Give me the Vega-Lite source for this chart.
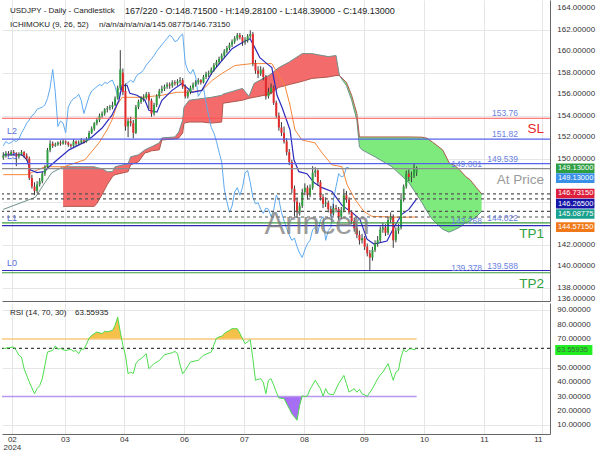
{
"$schema":"https://vega.github.io/schema/vega-lite/v6.json",
"padding":0,
"background":"white",
"spacing":0,
"config":{"view":{"stroke":null},"font":"Liberation Sans","text":{"font":"Liberation Sans"},"axis":{"labelFont":"Liberation Sans"}},
"datasets":{
"candles":[
{"i":0,"o":150.1,"h":150.6,"l":149.9,"c":150.3},{"i":1,"o":150.3,"h":150.7,"l":150.1,"c":150.5},{"i":2,"o":150.5,"h":150.7,"l":150.2,"c":150.4},{"i":3,"o":150.4,"h":150.8,"l":150.3,"c":150.6},{"i":4,"o":150.6,"h":150.8,"l":150.3,"c":150.5},{"i":5,"o":150.5,"h":150.6,"l":149.3,"c":150.2},{"i":6,"o":150.2,"h":150.6,"l":150.0,"c":150.4},{"i":7,"o":150.4,"h":150.8,"l":150.3,"c":150.6},{"i":8,"o":150.6,"h":150.7,"l":150.1,"c":150.3},{"i":9,"o":150.3,"h":150.5,"l":149.8,"c":150.0},
{"i":10,"o":150.0,"h":150.2,"l":148.0,"c":148.2},{"i":11,"o":148.2,"h":148.5,"l":147.2,"c":147.4},{"i":12,"o":147.4,"h":147.8,"l":146.6,"c":147.0},{"i":13,"o":147.0,"h":147.9,"l":146.8,"c":147.6},{"i":14,"o":147.6,"h":148.2,"l":147.4,"c":147.9},{"i":15,"o":147.9,"h":148.8,"l":147.7,"c":148.6},{"i":16,"o":148.6,"h":149.4,"l":148.4,"c":149.2},{"i":17,"o":149.2,"h":151.0,"l":149.1,"c":150.8},{"i":18,"o":150.8,"h":151.7,"l":150.6,"c":151.4},{"i":19,"o":151.4,"h":151.6,"l":151.0,"c":151.2},
{"i":20,"o":151.2,"h":151.5,"l":151.1,"c":151.3},{"i":21,"o":151.3,"h":151.6,"l":151.2,"c":151.5},{"i":22,"o":151.5,"h":151.7,"l":151.2,"c":151.4},{"i":23,"o":151.4,"h":151.8,"l":151.3,"c":151.6},{"i":24,"o":151.6,"h":151.7,"l":151.3,"c":151.5},{"i":25,"o":151.5,"h":151.6,"l":151.1,"c":151.3},{"i":26,"o":151.3,"h":151.4,"l":151.0,"c":151.2},{"i":27,"o":151.2,"h":151.8,"l":151.1,"c":151.6},{"i":28,"o":151.6,"h":151.7,"l":151.2,"c":151.4},{"i":29,"o":151.4,"h":151.7,"l":151.3,"c":151.5},
{"i":30,"o":151.5,"h":151.9,"l":151.4,"c":151.7},{"i":31,"o":151.7,"h":151.8,"l":151.4,"c":151.6},{"i":32,"o":151.6,"h":152.0,"l":151.5,"c":151.8},{"i":33,"o":151.8,"h":152.6,"l":151.7,"c":152.4},{"i":34,"o":152.4,"h":153.0,"l":152.3,"c":152.8},{"i":35,"o":152.8,"h":153.4,"l":152.6,"c":153.3},{"i":36,"o":153.3,"h":153.8,"l":153.1,"c":153.6},{"i":37,"o":153.6,"h":154.2,"l":153.4,"c":154.0},{"i":38,"o":154.0,"h":154.4,"l":153.8,"c":154.2},{"i":39,"o":154.2,"h":154.7,"l":154.0,"c":154.6},
{"i":40,"o":154.6,"h":154.9,"l":154.3,"c":154.7},{"i":41,"o":154.7,"h":155.0,"l":154.5,"c":154.8},{"i":42,"o":154.8,"h":155.3,"l":154.6,"c":155.0},{"i":43,"o":155.0,"h":155.8,"l":154.9,"c":155.6},{"i":44,"o":155.6,"h":156.8,"l":155.5,"c":156.6},{"i":45,"o":156.6,"h":160.1,"l":156.4,"c":158.3},{"i":46,"o":158.0,"h":158.4,"l":155.9,"c":156.2},{"i":47,"o":156.3,"h":157.0,"l":152.6,"c":153.0},{"i":48,"o":153.0,"h":153.8,"l":152.0,"c":153.5},{"i":49,"o":153.5,"h":153.9,"l":153.0,"c":153.3},
{"i":50,"o":153.3,"h":153.6,"l":151.9,"c":152.4},{"i":51,"o":152.4,"h":155.0,"l":152.3,"c":154.8},{"i":52,"o":154.8,"h":155.5,"l":154.6,"c":155.3},{"i":53,"o":155.3,"h":155.8,"l":155.1,"c":155.6},{"i":54,"o":155.6,"h":156.0,"l":155.3,"c":155.7},{"i":55,"o":155.7,"h":156.2,"l":155.5,"c":156.0},{"i":56,"o":156.0,"h":156.2,"l":154.6,"c":155.4},{"i":57,"o":155.4,"h":155.6,"l":153.9,"c":154.2},{"i":58,"o":154.2,"h":155.2,"l":154.0,"c":155.0},{"i":59,"o":155.0,"h":156.0,"l":154.8,"c":155.8},
{"i":60,"o":155.8,"h":156.5,"l":155.6,"c":156.3},{"i":61,"o":156.3,"h":156.8,"l":156.1,"c":156.5},{"i":62,"o":156.5,"h":156.9,"l":156.3,"c":156.7},{"i":63,"o":156.7,"h":157.1,"l":156.5,"c":156.9},{"i":64,"o":156.9,"h":157.1,"l":156.5,"c":156.8},{"i":65,"o":156.8,"h":157.3,"l":156.6,"c":157.1},{"i":66,"o":157.1,"h":157.3,"l":156.8,"c":157.0},{"i":67,"o":157.0,"h":157.4,"l":156.8,"c":157.2},{"i":68,"o":157.2,"h":157.6,"l":157.0,"c":157.3},{"i":69,"o":157.3,"h":157.5,"l":156.5,"c":156.7},
{"i":70,"o":156.7,"h":156.9,"l":155.6,"c":155.8},{"i":71,"o":155.8,"h":156.4,"l":155.6,"c":156.2},{"i":72,"o":156.2,"h":156.8,"l":156.0,"c":156.6},{"i":73,"o":156.6,"h":157.1,"l":156.4,"c":156.9},{"i":74,"o":156.9,"h":157.3,"l":156.7,"c":157.1},{"i":75,"o":157.1,"h":157.5,"l":156.9,"c":157.3},{"i":76,"o":157.3,"h":157.4,"l":156.9,"c":157.1},{"i":77,"o":157.1,"h":157.8,"l":157.0,"c":157.6},{"i":78,"o":157.6,"h":158.1,"l":157.4,"c":157.9},{"i":79,"o":157.9,"h":158.2,"l":157.6,"c":158.0},
{"i":80,"o":158.0,"h":158.5,"l":157.8,"c":158.3},{"i":81,"o":158.3,"h":158.9,"l":158.1,"c":158.7},{"i":82,"o":158.7,"h":159.2,"l":158.5,"c":159.0},{"i":83,"o":159.0,"h":159.5,"l":158.8,"c":159.3},{"i":84,"o":159.3,"h":159.8,"l":159.1,"c":159.6},{"i":85,"o":159.6,"h":160.2,"l":159.4,"c":160.0},{"i":86,"o":160.0,"h":160.5,"l":159.8,"c":160.3},{"i":87,"o":160.3,"h":160.8,"l":160.1,"c":160.6},{"i":88,"o":160.6,"h":161.1,"l":160.4,"c":160.9},{"i":89,"o":160.9,"h":161.4,"l":160.7,"c":161.2},
{"i":90,"o":161.2,"h":161.7,"l":161.0,"c":161.5},{"i":91,"o":161.5,"h":161.7,"l":161.1,"c":161.3},{"i":92,"o":161.3,"h":161.5,"l":160.5,"c":160.9},{"i":93,"o":160.9,"h":161.3,"l":160.6,"c":161.0},{"i":94,"o":161.0,"h":161.6,"l":160.8,"c":161.4},{"i":95,"o":161.4,"h":161.95,"l":161.2,"c":161.6},{"i":96,"o":161.6,"h":161.8,"l":158.6,"c":158.9},{"i":97,"o":158.9,"h":159.2,"l":157.9,"c":158.2},{"i":98,"o":158.2,"h":158.6,"l":157.5,"c":157.9},{"i":99,"o":157.9,"h":158.6,"l":157.7,"c":158.3},
{"i":100,"o":158.3,"h":158.5,"l":157.3,"c":157.6},{"i":101,"o":157.6,"h":157.8,"l":155.5,"c":155.8},{"i":102,"o":155.8,"h":156.6,"l":155.6,"c":156.2},{"i":103,"o":156.2,"h":157.0,"l":156.0,"c":156.6},{"i":104,"o":156.6,"h":156.8,"l":155.0,"c":155.2},{"i":105,"o":155.2,"h":155.4,"l":153.8,"c":154.0},{"i":106,"o":154.0,"h":154.3,"l":152.6,"c":152.9},{"i":107,"o":152.9,"h":153.4,"l":152.1,"c":152.4},{"i":108,"o":152.4,"h":153.0,"l":151.4,"c":151.6},{"i":109,"o":151.6,"h":151.9,"l":150.3,"c":150.6},
{"i":110,"o":150.6,"h":150.9,"l":149.4,"c":149.7},{"i":111,"o":149.7,"h":149.9,"l":146.8,"c":147.2},{"i":112,"o":147.2,"h":147.5,"l":144.6,"c":146.0},{"i":113,"o":146.0,"h":146.4,"l":144.5,"c":145.0},{"i":114,"o":145.0,"h":145.9,"l":144.7,"c":145.6},{"i":115,"o":145.6,"h":147.2,"l":145.4,"c":146.9},{"i":116,"o":146.9,"h":147.7,"l":146.6,"c":147.3},{"i":117,"o":147.3,"h":147.5,"l":146.2,"c":146.6},{"i":118,"o":146.6,"h":147.6,"l":146.4,"c":147.3},{"i":119,"o":147.3,"h":149.3,"l":147.1,"c":148.7},
{"i":120,"o":148.7,"h":149.2,"l":148.3,"c":148.9},{"i":121,"o":148.9,"h":149.0,"l":147.5,"c":147.8},{"i":122,"o":147.8,"h":148.0,"l":146.1,"c":146.4},{"i":123,"o":146.4,"h":146.7,"l":145.4,"c":145.8},{"i":124,"o":145.8,"h":146.4,"l":145.5,"c":145.9},{"i":125,"o":145.9,"h":146.1,"l":145.0,"c":145.3},{"i":126,"o":145.3,"h":145.6,"l":144.6,"c":144.9},{"i":127,"o":144.9,"h":145.8,"l":144.7,"c":145.4},{"i":128,"o":145.4,"h":145.7,"l":145.0,"c":145.3},{"i":129,"o":145.3,"h":145.5,"l":144.3,"c":144.6},
{"i":130,"o":144.6,"h":145.5,"l":144.4,"c":145.2},{"i":131,"o":145.2,"h":147.2,"l":145.0,"c":146.6},{"i":132,"o":146.6,"h":147.0,"l":145.9,"c":146.2},{"i":133,"o":146.2,"h":146.4,"l":144.8,"c":145.0},{"i":134,"o":145.0,"h":145.2,"l":143.9,"c":144.2},{"i":135,"o":144.2,"h":144.5,"l":143.2,"c":143.5},{"i":136,"o":143.5,"h":143.9,"l":142.6,"c":142.9},{"i":137,"o":142.9,"h":143.3,"l":142.0,"c":142.4},{"i":138,"o":142.4,"h":143.0,"l":142.1,"c":142.6},{"i":139,"o":142.6,"h":142.8,"l":141.5,"c":141.8},
{"i":140,"o":141.8,"h":142.1,"l":140.9,"c":141.2},{"i":141,"o":141.2,"h":141.5,"l":139.6,"c":140.8},{"i":142,"o":140.8,"h":141.8,"l":140.5,"c":141.5},{"i":143,"o":141.5,"h":142.4,"l":141.3,"c":142.1},{"i":144,"o":142.1,"h":142.8,"l":141.8,"c":142.4},{"i":145,"o":142.4,"h":143.7,"l":142.2,"c":143.4},{"i":146,"o":143.4,"h":144.0,"l":143.1,"c":143.6},{"i":147,"o":143.6,"h":143.9,"l":142.8,"c":143.1},{"i":148,"o":143.1,"h":144.6,"l":142.9,"c":144.3},{"i":149,"o":144.3,"h":145.0,"l":144.0,"c":144.6},
{"i":150,"o":144.6,"h":144.8,"l":141.7,"c":142.4},{"i":151,"o":142.4,"h":143.6,"l":142.2,"c":143.3},{"i":152,"o":143.3,"h":143.9,"l":143.0,"c":143.6},{"i":153,"o":143.6,"h":146.8,"l":143.4,"c":146.2},{"i":154,"o":146.2,"h":147.6,"l":146.0,"c":147.4},{"i":155,"o":147.4,"h":148.9,"l":147.2,"c":148.6},{"i":156,"o":148.6,"h":149.0,"l":147.9,"c":148.3},{"i":157,"o":148.3,"h":148.8,"l":147.8,"c":148.4},{"i":158,"o":148.4,"h":149.6,"l":148.2,"c":149.2},{"i":159,"o":148.715,"h":149.281,"l":148.39,"c":149.13}
],
"chikou":[
{"i":0,"v":151.2},{"i":1,"v":151.6},{"i":2,"v":151.4},{"i":3,"v":151.5},{"i":4,"v":151.7},{"i":5,"v":151.6},{"i":6,"v":151.8},{"i":7,"v":152.4},{"i":8,"v":152.8},{"i":9,"v":153.3},{"i":10,"v":153.6},{"i":11,"v":154.0},{"i":12,"v":154.2},{"i":13,"v":154.6},{"i":14,"v":154.7},{"i":15,"v":154.8},{"i":16,"v":155.0},{"i":17,"v":155.6},{"i":18,"v":156.6},{"i":19,"v":158.3},{"i":20,"v":156.2},{"i":21,"v":153.0},{"i":22,"v":153.5},{"i":23,"v":153.3},{"i":24,"v":152.4},{"i":25,"v":154.8},{"i":26,"v":155.3},{"i":27,"v":155.6},{"i":28,"v":155.7},{"i":29,"v":156.0},{"i":30,"v":155.4},{"i":31,"v":154.2},{"i":32,"v":155.0},{"i":33,"v":155.8},{"i":34,"v":156.3},{"i":35,"v":156.5},{"i":36,"v":156.7},{"i":37,"v":156.9},{"i":38,"v":156.8},{"i":39,"v":157.1},{"i":40,"v":157.0},{"i":41,"v":157.2},{"i":42,"v":157.3},{"i":43,"v":156.7},{"i":44,"v":155.8},{"i":45,"v":156.2},{"i":46,"v":156.6},{"i":47,"v":156.9},{"i":48,"v":157.1},{"i":49,"v":157.3},{"i":50,"v":157.1},{"i":51,"v":157.6},{"i":52,"v":157.9},{"i":53,"v":158.0},{"i":54,"v":158.3},{"i":55,"v":158.7},{"i":56,"v":159.0},{"i":57,"v":159.3},{"i":58,"v":159.6},{"i":59,"v":160.0},{"i":60,"v":160.3},{"i":61,"v":160.6},{"i":62,"v":160.9},{"i":63,"v":161.2},{"i":64,"v":161.5},{"i":65,"v":161.3},{"i":66,"v":160.9},{"i":67,"v":161.0},{"i":68,"v":161.4},{"i":69,"v":161.6},{"i":70,"v":158.9},{"i":71,"v":158.2},{"i":72,"v":157.9},{"i":73,"v":158.3},{"i":74,"v":157.6},{"i":75,"v":155.8},{"i":76,"v":156.2},{"i":77,"v":156.6},{"i":78,"v":155.2},{"i":79,"v":154.0},{"i":80,"v":152.9},{"i":81,"v":152.4},{"i":82,"v":151.6},{"i":83,"v":150.6},{"i":84,"v":149.7},{"i":85,"v":147.2},{"i":86,"v":146.0},{"i":87,"v":145.0},{"i":88,"v":145.6},{"i":89,"v":146.9},{"i":90,"v":147.3},{"i":91,"v":146.6},{"i":92,"v":147.3},{"i":93,"v":148.7},{"i":94,"v":148.9},{"i":95,"v":147.8},{"i":96,"v":146.4},{"i":97,"v":145.8},{"i":98,"v":145.9},{"i":99,"v":145.3},{"i":100,"v":144.9},{"i":101,"v":145.4},{"i":102,"v":145.3},{"i":103,"v":144.6},{"i":104,"v":145.2},{"i":105,"v":146.6},{"i":106,"v":146.2},{"i":107,"v":145.0},{"i":108,"v":144.2},{"i":109,"v":143.5},{"i":110,"v":142.9},{"i":111,"v":142.4},{"i":112,"v":142.6},{"i":113,"v":141.8},{"i":114,"v":141.2},{"i":115,"v":140.8},{"i":116,"v":141.5},{"i":117,"v":142.1},{"i":118,"v":142.4},{"i":119,"v":143.4},{"i":120,"v":143.6},{"i":121,"v":143.1},{"i":122,"v":144.3},{"i":123,"v":144.6},{"i":124,"v":142.4},{"i":125,"v":143.3},{"i":126,"v":143.6},{"i":127,"v":146.2},{"i":128,"v":147.4},{"i":129,"v":148.6},{"i":130,"v":148.3},{"i":131,"v":148.4},{"i":132,"v":149.2},{"i":133,"v":149.13}
],
"tenkan":[{"i":0,"v":150.36},{"i":7.2,"v":150.36},{"i":9.1,"v":149.9},{"i":10.3,"v":148.97},{"i":13,"v":148.7},{"i":16,"v":148.8},{"i":17.6,"v":149.25},{"i":25.3,"v":150.82},{"i":31.4,"v":151.56},{"i":34.1,"v":152.02},{"i":38,"v":152.85},{"i":41.8,"v":154.05},{"i":44.5,"v":155.44},{"i":45.7,"v":156.82},{"i":47.6,"v":156.82},{"i":48.7,"v":156.08},{"i":51.4,"v":155.9},{"i":54.5,"v":155.44},{"i":56,"v":154.51},{"i":59.1,"v":154.33},{"i":61,"v":155.44},{"i":64.9,"v":156.36},{"i":68.7,"v":157.0},{"i":70.7,"v":156.6},{"i":72.6,"v":156.18},{"i":76.4,"v":156.36},{"i":80.3,"v":158.02},{"i":84.1,"v":159.13},{"i":88,"v":160.24},{"i":91.8,"v":160.79},{"i":94.9,"v":161.16},{"i":96.4,"v":160.5},{"i":98.7,"v":159.4},{"i":101.4,"v":158.85},{"i":103.3,"v":158.48},{"i":105.3,"v":155.9},{"i":107.2,"v":154.79},{"i":110.3,"v":152.67},{"i":111.8,"v":149.9},{"i":113.7,"v":148.79},{"i":116.8,"v":148.6},{"i":119.5,"v":147.77},{"i":122.6,"v":147.3},{"i":126.4,"v":146.94},{"i":130.3,"v":145.65},{"i":134.1,"v":145.0},{"i":137.2,"v":144.36},{"i":139.9,"v":142.51},{"i":142.6,"v":142.05},{"i":147.6,"v":142.33},{"i":150.3,"v":143.62},{"i":153.3,"v":144.82},{"i":156,"v":145.28},{"i":159,"v":146.265}],
"kijun":[{"i":0,"v":148.51},{"i":9.1,"v":148.51},{"i":16,"v":149.25},{"i":23.3,"v":149.25},{"i":31.4,"v":149.9},{"i":36.8,"v":151.47},{"i":39.9,"v":152.67},{"i":41.8,"v":153.59},{"i":43.7,"v":154.97},{"i":45.7,"v":155.71},{"i":53.3,"v":155.71},{"i":61,"v":155.9},{"i":66.8,"v":156.18},{"i":70.7,"v":156.18},{"i":76.4,"v":156.36},{"i":80.3,"v":157.28},{"i":84.1,"v":157.93},{"i":89.1,"v":158.67},{"i":95.7,"v":158.85},{"i":103.3,"v":158.85},{"i":106,"v":157.74},{"i":108.3,"v":156.82},{"i":110.3,"v":154.97},{"i":112.2,"v":152.67},{"i":114.9,"v":151.74},{"i":119.9,"v":151.47},{"i":122.6,"v":150.54},{"i":126.4,"v":149.43},{"i":130.3,"v":149.25},{"i":132.2,"v":147.59},{"i":135.3,"v":146.2},{"i":138.7,"v":145.1},{"i":141.8,"v":144.63},{"i":153.3,"v":144.54},{"i":159,"v":144.5715}],
"spanApre":[{"i":0,"v":145.28},{"i":7.2,"v":145.93},{"i":12.3,"v":146.4},{"i":16,"v":147.77},{"i":18.7,"v":148.7},{"i":23,"v":149.25}],
"cloud":[
{"i":23,"a":149.25,"b":145.56,"s":"r"},{"i":35,"a":149.25,"b":145.56,"s":"r"},{"i":36,"a":149.16,"b":145.83,"s":"r"},{"i":38,"a":149.07,"b":146.66,"s":"r"},{"i":40,"a":148.79,"b":147.59,"s":"r"},{"i":42,"a":148.79,"b":148.33,"s":"r"},{"i":43,"a":149.25,"b":148.51,"s":"r"},{"i":48,"a":149.53,"b":148.79,"s":"r"},{"i":49,"a":150.17,"b":149.43,"s":"r"},{"i":52,"a":150.36,"b":149.71,"s":"r"},{"i":54.5,"a":150.82,"b":150.54,"s":"r"},{"i":56,"a":151.0,"b":150.63,"s":"r"},{"i":57,"a":151.1,"b":150.73,"s":"r"},{"i":60,"a":151.47,"b":150.82,"s":"r"},{"i":61,"a":151.93,"b":151.74,"s":"r"},{"i":66,"a":152.02,"b":151.84,"s":"r"},{"i":67.5,"a":152.48,"b":151.93,"s":"r"},{"i":69,"a":153.59,"b":152.39,"s":"r"},{"i":69.5,"a":154.79,"b":153.31,"s":"r"},{"i":71.5,"a":155.44,"b":153.41,"s":"r"},{"i":76.5,"a":155.6,"b":153.41,"s":"r"},{"i":80,"a":155.71,"b":153.31,"s":"r"},{"i":84,"a":155.9,"b":153.41,"s":"r"},{"i":84.5,"a":156.0,"b":155.16,"s":"r"},{"i":92,"a":156.54,"b":155.44,"s":"r"},{"i":94.5,"a":155.8,"b":155.62,"s":"r"},{"i":96.5,"a":157.01,"b":155.71,"s":"r"},{"i":102.5,"a":157.8,"b":156.0,"s":"r"},{"i":106,"a":158.48,"b":156.64,"s":"r"},{"i":110,"a":159.0,"b":156.9,"s":"r"},{"i":115,"a":159.78,"b":157.2,"s":"r"},{"i":118.7,"a":159.78,"b":157.47,"s":"r"},{"i":125,"a":159.5,"b":157.6,"s":"r"},{"i":128,"a":159.6,"b":157.74,"s":"r"},{"i":129.3,"a":157.74,"b":157.74,"s":"r"},
{"i":129.3,"a":157.74,"b":157.74,"s":"g"},{"i":132,"a":156.8,"b":157.1,"s":"g"},{"i":134,"a":155.44,"b":155.9,"s":"g"},{"i":136,"a":153.59,"b":154.2,"s":"g"},{"i":137,"a":151.1,"b":152.02,"s":"g"},{"i":138,"a":150.82,"b":152.02,"s":"g"},{"i":143,"a":150.17,"b":152.02,"s":"g"},{"i":149.5,"a":149.25,"b":152.02,"s":"g"},{"i":156,"a":147.77,"b":152.02,"s":"g"},{"i":161,"a":145.93,"b":152.0,"s":"g"},{"i":163,"a":145.1,"b":151.9,"s":"g"},{"i":165,"a":144.36,"b":151.56,"s":"g"},{"i":169,"a":143.43,"b":150.82,"s":"g"},{"i":171.5,"a":143.16,"b":149.62,"s":"g"},{"i":174,"a":143.43,"b":149.3,"s":"g"},{"i":175.5,"a":143.6,"b":148.97,"s":"g"},{"i":178,"a":144.08,"b":148.3,"s":"g"},{"i":179.5,"a":144.2,"b":148.05,"s":"g"},{"i":182,"a":144.6,"b":147.3,"s":"g"},{"i":184,"a":145.09,"b":146.73,"s":"g"}
],
"levels":[{"v":153.76,"k":"sl"},{"v":151.82,"k":"la"},{"v":149.539,"k":"la"},{"v":149.081,"k":"at"},{"v":146.7315,"k":"dot"},{"v":146.265,"k":"dot"},{"v":145.08775,"k":"dot"},{"v":144.5715,"k":"dot"},{"v":144.022,"k":"tp"},{"v":143.768,"k":"lb"},{"v":139.588,"k":"lb"},{"v":139.378,"k":"tp"}],
"levelText":[{"v":153.76,"t":"153.76"},{"v":151.82,"t":"151.82"},{"v":149.539,"t":"149.539"},{"v":144.022,"t":"144.022"},{"v":139.588,"t":"139.588"}],
"levelText2":[{"v":149.081,"t":"149.081"},{"v":143.768,"t":"143.768"},{"v":139.378,"t":"139.378"}],
"lLabels":[{"v":151.82,"t":"L2"},{"v":149.539,"t":"L3"},{"v":143.768,"t":"L1"},{"v":139.588,"t":"L0"}],
"bigLabels":[{"v":153.76,"t":"SL","k":"sl"},{"v":149.081,"t":"At Price","k":"at"},{"v":144.022,"t":"TP1","k":"tp"},{"v":139.378,"t":"TP2","k":"tp"}],
"priceTicks":[{"v":138},{"v":140},{"v":142},{"v":150},{"v":152},{"v":154},{"v":156},{"v":158},{"v":160},{"v":162},{"v":164}],
"rsiTicks":[{"v":10},{"v":20},{"v":30},{"v":40},{"v":50},{"v":70},{"v":80},{"v":90}],
"rsi":[{"i":0,"v":63.3},{"i":2,"v":64},{"i":4,"v":64.5},{"i":5,"v":62},{"i":6,"v":58.7},{"i":7,"v":57.5},{"i":8,"v":49.4},{"i":10,"v":40.1},{"i":12,"v":32},{"i":13,"v":35.5},{"i":14,"v":37.6},{"i":15,"v":42.4},{"i":16,"v":51.7},{"i":17,"v":61},{"i":19,"v":62.1},{"i":20,"v":65.2},{"i":21,"v":62.9},{"i":22,"v":63.5},{"i":24,"v":62},{"i":25,"v":62.5},{"i":26,"v":62.8},{"i":27,"v":61.5},{"i":28,"v":62},{"i":29,"v":59.8},{"i":30,"v":63},{"i":31,"v":63},{"i":32,"v":66.5},{"i":33,"v":70.6},{"i":34,"v":72.6},{"i":36,"v":74.9},{"i":38,"v":73.8},{"i":39,"v":75.4},{"i":40,"v":75},{"i":42,"v":76},{"i":43,"v":79.5},{"i":44,"v":85.3},{"i":45,"v":74.9},{"i":46,"v":65.7},{"i":47,"v":58.7},{"i":48,"v":45.9},{"i":49,"v":47},{"i":50,"v":46},{"i":51,"v":52.9},{"i":52,"v":55.2},{"i":53,"v":56.4},{"i":55,"v":59.8},{"i":56,"v":49.4},{"i":58,"v":52.9},{"i":60,"v":55},{"i":62,"v":59.1},{"i":65,"v":60.5},{"i":66,"v":61.4},{"i":67,"v":60},{"i":68,"v":52},{"i":69,"v":45.9},{"i":70,"v":48.2},{"i":72,"v":54.1},{"i":75,"v":55.2},{"i":77,"v":58.7},{"i":80,"v":61},{"i":81,"v":66},{"i":82,"v":70.6},{"i":83,"v":71.5},{"i":84,"v":72},{"i":85,"v":73.8},{"i":86,"v":75},{"i":88,"v":77.2},{"i":90,"v":77.2},{"i":91,"v":74},{"i":92,"v":70.3},{"i":93,"v":66.8},{"i":95,"v":69.5},{"i":96,"v":56.4},{"i":97,"v":41.3},{"i":98,"v":42},{"i":99,"v":42.4},{"i":100,"v":40},{"i":101,"v":32},{"i":102,"v":41.3},{"i":103,"v":42.4},{"i":104,"v":38},{"i":105,"v":33.1},{"i":106,"v":29},{"i":108,"v":28.6},{"i":110,"v":21.6},{"i":111,"v":18},{"i":112,"v":15.8},{"i":113,"v":13.5},{"i":114,"v":23.9},{"i":115,"v":30.5},{"i":116,"v":30},{"i":117,"v":30.5},{"i":118,"v":35},{"i":120,"v":41.3},{"i":122,"v":35.5},{"i":123,"v":30.2},{"i":124,"v":35.5},{"i":125,"v":32},{"i":126,"v":31.5},{"i":127,"v":31.3},{"i":129,"v":39},{"i":131,"v":44.7},{"i":132,"v":39},{"i":133,"v":33.1},{"i":135,"v":35.5},{"i":136,"v":33},{"i":137,"v":35},{"i":138,"v":32},{"i":139,"v":31},{"i":140,"v":30.2},{"i":142,"v":35.5},{"i":144,"v":42.4},{"i":145,"v":45},{"i":146,"v":47},{"i":148,"v":52.9},{"i":149,"v":47},{"i":150,"v":41.3},{"i":151,"v":47},{"i":152,"v":48.2},{"i":153,"v":57.5},{"i":154,"v":62.9},{"i":155,"v":61},{"i":156,"v":62.9},{"i":157,"v":63.3},{"i":158,"v":62.5},{"i":159,"v":63.56}],
"ob":[{"i":32.6,"v":70,"g":"a"},{"i":33,"v":70.6,"g":"a"},{"i":34,"v":72.6,"g":"a"},{"i":36,"v":74.9,"g":"a"},{"i":38,"v":73.8,"g":"a"},{"i":39,"v":75.4,"g":"a"},{"i":40,"v":75,"g":"a"},{"i":42,"v":76,"g":"a"},{"i":43,"v":79.5,"g":"a"},{"i":44,"v":85.3,"g":"a"},{"i":45,"v":74.9,"g":"a"},{"i":45.53,"v":70,"g":"a"},{"i":81.9,"v":70,"g":"b"},{"i":82,"v":70.6,"g":"b"},{"i":83,"v":71.5,"g":"b"},{"i":84,"v":72,"g":"b"},{"i":85,"v":73.8,"g":"b"},{"i":86,"v":75,"g":"b"},{"i":88,"v":77.2,"g":"b"},{"i":90,"v":77.2,"g":"b"},{"i":91,"v":74,"g":"b"},{"i":92,"v":70.3,"g":"b"},{"i":92.1,"v":70,"g":"b"}],
"os":[{"i":105.76,"v":30},{"i":106,"v":29},{"i":108,"v":28.6},{"i":110,"v":21.6},{"i":111,"v":18},{"i":112,"v":15.8},{"i":113,"v":13.5},{"i":114,"v":23.9},{"i":114.9,"v":30}],
"rsiLevels":[{"v":70,"k":"ob"},{"v":30,"k":"os"}]
},
"vconcat":[
{"width":548,"height":301,"resolve":{"scale":{"color":"independent","strokeDash":"independent"}},"layer":[
{"data":{"name":"cloud"},"mark":{"type":"area","opacity":1},"encoding":{
"x":{"field":"i","type":"quantitative","title":null,"scale":{"domain":[-0.5,210.3],"nice":false,"zero":false},"axis":{"title":null,"labels":false,"ticks":false,"domain":true,"domainColor":"#666666","grid":true,"gridColor":"#e6e6e6","values":[3.3,23.7,46.4,69.5,92.6,115.7,138.7,161.8,184.9,207.2],"minExtent":0,"maxExtent":0}},
"y":{"field":"a","type":"quantitative","title":null,"stack":null,"scale":{"domain":[136.75,164.77],"nice":false,"zero":false},"axis":{"title":null,"orient":"right","values":[138,140,142,144,146,148,150,152,154,156,158,160,162,164],"labels":false,"ticks":false,"domain":true,"domainColor":"#666666","grid":true,"gridColor":"#e6e6e6"}},
"y2":{"field":"b"},
"color":{"field":"s","type":"nominal","scale":{"domain":["r","g"],"range":["#f46b6b","#7eea7e"]},"legend":null}}},
{"data":{"name":"spanApre"},"mark":{"type":"line","color":"#6f918c","strokeWidth":1},"encoding":{"x":{"field":"i","type":"quantitative","title":null,"scale":{"domain":[-0.5,210.3],"nice":false,"zero":false}},"y":{"field":"v","type":"quantitative","title":null,"scale":{"domain":[136.75,164.77],"nice":false,"zero":false}}}},
{"data":{"name":"cloud"},"mark":{"type":"line","color":"#6f918c","strokeWidth":1},"encoding":{"x":{"field":"i","type":"quantitative","title":null,"scale":{"domain":[-0.5,210.3],"nice":false,"zero":false}},"y":{"field":"a","type":"quantitative","title":null,"scale":{"domain":[136.75,164.77],"nice":false,"zero":false}}}},
{"data":{"name":"cloud"},"mark":{"type":"line","color":"#b0574c","strokeWidth":1},"encoding":{"x":{"field":"i","type":"quantitative","title":null,"scale":{"domain":[-0.5,210.3],"nice":false,"zero":false}},"y":{"field":"b","type":"quantitative","title":null,"scale":{"domain":[136.75,164.77],"nice":false,"zero":false}}}},
{"data":{"name":"chikou"},"mark":{"type":"line","color":"#5eaaf0","strokeWidth":1},"encoding":{"x":{"field":"i","type":"quantitative","title":null,"scale":{"domain":[-0.5,210.3],"nice":false,"zero":false}},"y":{"field":"v","type":"quantitative","title":null,"scale":{"domain":[136.75,164.77],"nice":false,"zero":false}}}},
{"data":{"name":"kijun"},"mark":{"type":"line","color":"#f5873a","strokeWidth":1},"encoding":{"x":{"field":"i","type":"quantitative","title":null,"scale":{"domain":[-0.5,210.3],"nice":false,"zero":false}},"y":{"field":"v","type":"quantitative","title":null,"scale":{"domain":[136.75,164.77],"nice":false,"zero":false}}}},
{"data":{"name":"tenkan"},"mark":{"type":"line","color":"#2b2bbf","strokeWidth":1.2},"encoding":{"x":{"field":"i","type":"quantitative","title":null,"scale":{"domain":[-0.5,210.3],"nice":false,"zero":false}},"y":{"field":"v","type":"quantitative","title":null,"scale":{"domain":[136.75,164.77],"nice":false,"zero":false}}}},
{"data":{"name":"candles"},"mark":{"type":"rule","color":"#3a3a3a","strokeWidth":1},"encoding":{"x":{"field":"i","type":"quantitative","title":null,"scale":{"domain":[-0.5,210.3],"nice":false,"zero":false}},"y":{"field":"l","type":"quantitative","title":null,"scale":{"domain":[136.75,164.77],"nice":false,"zero":false}},"y2":{"field":"h"}}},
{"data":{"name":"candles"},"mark":{"type":"rule","strokeWidth":2},"encoding":{"x":{"field":"i","type":"quantitative","title":null,"scale":{"domain":[-0.5,210.3],"nice":false,"zero":false}},"y":{"field":"o","type":"quantitative","title":null,"scale":{"domain":[136.75,164.77],"nice":false,"zero":false}},"y2":{"field":"c"},"color":{"condition":{"test":"datum.c >= datum.o","value":"#2f9e3f"},"value":"#e42a2a"}}},
{"data":{"name":"levels"},"mark":{"type":"rule","strokeWidth":1.2},"encoding":{"y":{"field":"v","type":"quantitative","title":null,"scale":{"domain":[136.75,164.77],"nice":false,"zero":false}},"color":{"field":"k","type":"nominal","scale":{"domain":["sl","la","lb","at","tp","dot"],"range":["#ff5555","#5563ea","#2b2bb8","#8a8a8a","#3a9a3a","#555555"]},"legend":null},"strokeDash":{"field":"k","type":"nominal","scale":{"domain":["sl","la","lb","at","tp","dot"],"range":[[1,0],[1,0],[1,0],[1,0],[1,0],[3,3]]},"legend":null}}},
{"data":{"name":"levelText"},"mark":{"type":"text","align":"right","baseline":"alphabetic","dy":-2,"fontSize":8.5,"color":"#6b7fe0"},"encoding":{"x":{"datum":197.96,"type":"quantitative","title":null,"scale":{"domain":[-0.5,210.3],"nice":false,"zero":false}},"y":{"field":"v","type":"quantitative","title":null,"scale":{"domain":[136.75,164.77],"nice":false,"zero":false}},"text":{"field":"t"}}},
{"data":{"name":"levelText2"},"mark":{"type":"text","align":"right","baseline":"alphabetic","dy":-2,"fontSize":8.5,"color":"#6b7fe0"},"encoding":{"x":{"datum":184.1,"type":"quantitative","title":null,"scale":{"domain":[-0.5,210.3],"nice":false,"zero":false}},"y":{"field":"v","type":"quantitative","title":null,"scale":{"domain":[136.75,164.77],"nice":false,"zero":false}},"text":{"field":"t"}}},
{"data":{"name":"lLabels"},"mark":{"type":"text","align":"left","baseline":"bottom","dy":-3,"fontSize":9,"color":"#5a6ee0"},"encoding":{"x":{"datum":1.42,"type":"quantitative","title":null,"scale":{"domain":[-0.5,210.3],"nice":false,"zero":false}},"y":{"field":"v","type":"quantitative","title":null,"scale":{"domain":[136.75,164.77],"nice":false,"zero":false}},"text":{"field":"t"}}},
{"data":{"name":"bigLabels"},"mark":{"type":"text","align":"right","baseline":"middle","dy":11,"fontSize":13.5},"encoding":{"x":{"datum":207.96,"type":"quantitative","title":null,"scale":{"domain":[-0.5,210.3],"nice":false,"zero":false}},"y":{"field":"v","type":"quantitative","title":null,"scale":{"domain":[136.75,164.77],"nice":false,"zero":false}},"text":{"field":"t"},"color":{"field":"k","type":"nominal","scale":{"domain":["sl","at","tp"],"range":["#e8262b","#9a9a9a","#2e9e3e"]},"legend":null}}},
{"data":{"name":"priceTicks"},"mark":{"type":"text","align":"left","baseline":"middle","fontSize":8,"color":"#333333","clip":false},"encoding":{"x":{"datum":213.1,"type":"quantitative","title":null,"scale":{"domain":[-0.5,210.3],"nice":false,"zero":false}},"y":{"field":"v","type":"quantitative","title":null,"scale":{"domain":[136.75,164.77],"nice":false,"zero":false}},"text":{"field":"v","type":"quantitative","format":".5f"}}},
{"data":{"values":[{}]},"mark":{"type":"text","align":"left","baseline":"middle","fontSize":8,"color":"#333333","clip":false},"encoding":{"x":{"datum":213.1,"type":"quantitative","title":null,"scale":{"domain":[-0.5,210.3],"nice":false,"zero":false}},"y":{"datum":136.95,"type":"quantitative","title":null,"scale":{"domain":[136.75,164.77],"nice":false,"zero":false}},"text":{"value":"136.00000"}}},
{"data":{"values":[{}]},"mark":{"type":"text","align":"left","baseline":"middle","fontSize":8,"color":"#222222"},"encoding":{"x":{"datum":2.58,"type":"quantitative","title":null,"scale":{"domain":[-0.5,210.3],"nice":false,"zero":false}},"y":{"datum":163.75,"type":"quantitative","title":null,"scale":{"domain":[136.75,164.77],"nice":false,"zero":false}},"text":{"value":"USDJPY - Daily - Candlestick"}}},
{"data":{"values":[{}]},"mark":{"type":"text","align":"left","baseline":"middle","fontSize":9,"color":"#222222"},"encoding":{"x":{"datum":46.8,"type":"quantitative","title":null,"scale":{"domain":[-0.5,210.3],"nice":false,"zero":false}},"y":{"datum":163.75,"type":"quantitative","title":null,"scale":{"domain":[136.75,164.77],"nice":false,"zero":false}},"text":{"value":"167/220 - O:148.71500 - H:149.28100 - L:148.39000 - C:149.13000"}}},
{"data":{"values":[{}]},"mark":{"type":"text","align":"left","baseline":"middle","fontSize":8,"color":"#222222"},"encoding":{"x":{"datum":2.58,"type":"quantitative","title":null,"scale":{"domain":[-0.5,210.3],"nice":false,"zero":false}},"y":{"datum":162.44,"type":"quantitative","title":null,"scale":{"domain":[136.75,164.77],"nice":false,"zero":false}},"text":{"value":"ICHIMOKU (9, 26, 52)"}}},
{"data":{"values":[{}]},"mark":{"type":"text","align":"left","baseline":"middle","fontSize":8,"color":"#222222"},"encoding":{"x":{"datum":36.8,"type":"quantitative","title":null,"scale":{"domain":[-0.5,210.3],"nice":false,"zero":false}},"y":{"datum":162.44,"type":"quantitative","title":null,"scale":{"domain":[136.75,164.77],"nice":false,"zero":false}},"text":{"value":"n/a/n/a/n/a/n/a/145.08775/146.73150"}}},
{"data":{"values":[{}]},"mark":{"type":"text","align":"center","baseline":"middle","fontSize":31,"color":"#7a7a7a","opacity":0.75},"encoding":{"x":{"datum":120.7,"type":"quantitative","title":null,"scale":{"domain":[-0.5,210.3],"nice":false,"zero":false}},"y":{"datum":143.82,"type":"quantitative","title":null,"scale":{"domain":[136.75,164.77],"nice":false,"zero":false}},"text":{"value":"Arincen"}}},
{"data":{"values":[{}]},"layer":[
{"mark":{"type":"rect","color":"#2e9e44","clip":false},"encoding":{"x":{"datum":212.6,"type":"quantitative","title":null,"scale":{"domain":[-0.5,210.3],"nice":false,"zero":false}},"x2":{"datum":227.4},"y":{"datum":149.56,"type":"quantitative","title":null,"scale":{"domain":[136.75,164.77],"nice":false,"zero":false}},"y2":{"datum":148.66}}},
{"mark":{"type":"text","color":"#ffffff","align":"left","baseline":"middle","fontSize":7.5,"clip":false},"encoding":{"x":{"datum":213.35,"type":"quantitative","title":null,"scale":{"domain":[-0.5,210.3],"nice":false,"zero":false}},"y":{"datum":149.11,"type":"quantitative","title":null,"scale":{"domain":[136.75,164.77],"nice":false,"zero":false}},"text":{"value":"149.13000"}}},
{"mark":{"type":"rect","color":"#3a90e6","clip":false},"encoding":{"x":{"datum":212.6,"type":"quantitative","title":null,"scale":{"domain":[-0.5,210.3],"nice":false,"zero":false}},"x2":{"datum":227.4},"y":{"datum":148.64,"type":"quantitative","title":null,"scale":{"domain":[136.75,164.77],"nice":false,"zero":false}},"y2":{"datum":147.74}}},
{"mark":{"type":"text","color":"#ffffff","align":"left","baseline":"middle","fontSize":7.5,"clip":false},"encoding":{"x":{"datum":213.35,"type":"quantitative","title":null,"scale":{"domain":[-0.5,210.3],"nice":false,"zero":false}},"y":{"datum":148.19,"type":"quantitative","title":null,"scale":{"domain":[136.75,164.77],"nice":false,"zero":false}},"text":{"value":"149.13000"}}},
{"mark":{"type":"rect","color":"#dc1e3c","clip":false},"encoding":{"x":{"datum":212.6,"type":"quantitative","title":null,"scale":{"domain":[-0.5,210.3],"nice":false,"zero":false}},"x2":{"datum":227.4},"y":{"datum":147.21,"type":"quantitative","title":null,"scale":{"domain":[136.75,164.77],"nice":false,"zero":false}},"y2":{"datum":146.31}}},
{"mark":{"type":"text","color":"#ffffff","align":"left","baseline":"middle","fontSize":7.5,"clip":false},"encoding":{"x":{"datum":213.35,"type":"quantitative","title":null,"scale":{"domain":[-0.5,210.3],"nice":false,"zero":false}},"y":{"datum":146.76,"type":"quantitative","title":null,"scale":{"domain":[136.75,164.77],"nice":false,"zero":false}},"text":{"value":"146.73150"}}},
{"mark":{"type":"rect","color":"#1515a8","clip":false},"encoding":{"x":{"datum":212.6,"type":"quantitative","title":null,"scale":{"domain":[-0.5,210.3],"nice":false,"zero":false}},"x2":{"datum":227.4},"y":{"datum":146.27,"type":"quantitative","title":null,"scale":{"domain":[136.75,164.77],"nice":false,"zero":false}},"y2":{"datum":145.37}}},
{"mark":{"type":"text","color":"#ffffff","align":"left","baseline":"middle","fontSize":7.5,"clip":false},"encoding":{"x":{"datum":213.35,"type":"quantitative","title":null,"scale":{"domain":[-0.5,210.3],"nice":false,"zero":false}},"y":{"datum":145.82,"type":"quantitative","title":null,"scale":{"domain":[136.75,164.77],"nice":false,"zero":false}},"text":{"value":"146.26500"}}},
{"mark":{"type":"rect","color":"#18a08c","clip":false},"encoding":{"x":{"datum":212.6,"type":"quantitative","title":null,"scale":{"domain":[-0.5,210.3],"nice":false,"zero":false}},"x2":{"datum":227.4},"y":{"datum":145.3,"type":"quantitative","title":null,"scale":{"domain":[136.75,164.77],"nice":false,"zero":false}},"y2":{"datum":144.4}}},
{"mark":{"type":"text","color":"#ffffff","align":"left","baseline":"middle","fontSize":7.5,"clip":false},"encoding":{"x":{"datum":213.35,"type":"quantitative","title":null,"scale":{"domain":[-0.5,210.3],"nice":false,"zero":false}},"y":{"datum":144.85,"type":"quantitative","title":null,"scale":{"domain":[136.75,164.77],"nice":false,"zero":false}},"text":{"value":"145.08775"}}},
{"mark":{"type":"rect","color":"#f07818","clip":false},"encoding":{"x":{"datum":212.6,"type":"quantitative","title":null,"scale":{"domain":[-0.5,210.3],"nice":false,"zero":false}},"x2":{"datum":227.4},"y":{"datum":144.08,"type":"quantitative","title":null,"scale":{"domain":[136.75,164.77],"nice":false,"zero":false}},"y2":{"datum":143.18}}},
{"mark":{"type":"text","color":"#ffffff","align":"left","baseline":"middle","fontSize":7.5,"clip":false},"encoding":{"x":{"datum":213.35,"type":"quantitative","title":null,"scale":{"domain":[-0.5,210.3],"nice":false,"zero":false}},"y":{"datum":143.63,"type":"quantitative","title":null,"scale":{"domain":[136.75,164.77],"nice":false,"zero":false}},"text":{"value":"144.57150"}}}
]}
]},
{"width":548,"height":131,"resolve":{"scale":{"color":"independent"}},"layer":[
{"data":{"name":"ob"},"mark":{"type":"area","color":"#f6c14b","opacity":1},"encoding":{
"x":{"field":"i","type":"quantitative","title":null,"scale":{"domain":[-0.5,210.3],"nice":false,"zero":false},"axis":{"title":null,"values":[3.3,23.7,46.4,69.5,92.6,115.7,138.7,161.8,184.9,207.2],"labelExpr":"datum.value < 10 ? ['02', '2024'] : datum.value < 30 ? '03' : datum.value < 50 ? '04' : datum.value < 80 ? '06' : datum.value < 100 ? '07' : datum.value < 120 ? '08' : datum.value < 150 ? '09' : datum.value < 170 ? '10' : '11'","labelAlign":{"condition":{"test":"datum.value > 200","value":"right"},"value":"center"},"ticks":false,"domain":true,"domainColor":"#666666","grid":true,"gridColor":"#e6e6e6","labelFontSize":8,"labelColor":"#333333","labelPadding":1,"labelLineHeight":8,"labelOverlap":false,"labelFlush":false,"labelBound":false}},
"y":{"field":"v","type":"quantitative","title":null,"stack":null,"scale":{"domain":[3.95,95.08],"nice":false,"zero":false},"axis":{"title":null,"orient":"right","values":[10,20,30,40,50,60,70,80,90],"labels":false,"ticks":false,"domain":true,"domainColor":"#666666","grid":true,"gridColor":"#e6e6e6"}},
"y2":{"datum":70},
"detail":{"field":"g"}}},
{"data":{"name":"os"},"mark":{"type":"area","color":"#a66ef2","opacity":1},"encoding":{"x":{"field":"i","type":"quantitative","title":null,"scale":{"domain":[-0.5,210.3],"nice":false,"zero":false}},"y":{"field":"v","type":"quantitative","title":null,"stack":null,"scale":{"domain":[3.95,95.08],"nice":false,"zero":false}},"y2":{"datum":30}}},
{"data":{"name":"rsiLevels"},"mark":{"type":"rule","strokeWidth":1.5},"encoding":{"x":{"datum":-0.5,"type":"quantitative","title":null,"scale":{"domain":[-0.5,210.3],"nice":false,"zero":false}},"x2":{"datum":159},"y":{"field":"v","type":"quantitative","title":null,"scale":{"domain":[3.95,95.08],"nice":false,"zero":false}},"color":{"field":"k","type":"nominal","scale":{"domain":["ob","os"],"range":["#f7c97a","#b898ee"]},"legend":null}}},
{"data":{"values":[{"v":63.55935}]},"mark":{"type":"rule","color":"#111111","strokeDash":[3,3],"strokeWidth":1},"encoding":{"y":{"field":"v","type":"quantitative","title":null,"scale":{"domain":[3.95,95.08],"nice":false,"zero":false}}}},
{"data":{"name":"rsi"},"mark":{"type":"line","color":"#4ddd4d","strokeWidth":1},"encoding":{"x":{"field":"i","type":"quantitative","title":null,"scale":{"domain":[-0.5,210.3],"nice":false,"zero":false}},"y":{"field":"v","type":"quantitative","title":null,"scale":{"domain":[3.95,95.08],"nice":false,"zero":false}}}},
{"data":{"name":"rsiTicks"},"mark":{"type":"text","align":"left","baseline":"middle","fontSize":8,"color":"#333333","clip":false},"encoding":{"x":{"datum":213.1,"type":"quantitative","title":null,"scale":{"domain":[-0.5,210.3],"nice":false,"zero":false}},"y":{"field":"v","type":"quantitative","title":null,"scale":{"domain":[3.95,95.08],"nice":false,"zero":false}},"text":{"field":"v","type":"quantitative","format":".5f"}}},
{"data":{"values":[{}]},"mark":{"type":"text","align":"left","baseline":"middle","fontSize":8,"color":"#222222"},"encoding":{"x":{"datum":2.58,"type":"quantitative","title":null,"scale":{"domain":[-0.5,210.3],"nice":false,"zero":false}},"y":{"datum":87.8,"type":"quantitative","title":null,"scale":{"domain":[3.95,95.08],"nice":false,"zero":false}},"text":{"value":"RSI (14, 70, 30)"}}},
{"data":{"values":[{}]},"mark":{"type":"text","align":"left","baseline":"middle","fontSize":8,"color":"#222222"},"encoding":{"x":{"datum":27.6,"type":"quantitative","title":null,"scale":{"domain":[-0.5,210.3],"nice":false,"zero":false}},"y":{"datum":87.8,"type":"quantitative","title":null,"scale":{"domain":[3.95,95.08],"nice":false,"zero":false}},"text":{"value":"63.55935"}}},
{"data":{"values":[{}]},"layer":[
{"mark":{"type":"rect","color":"#22ee22","clip":false},"encoding":{"x":{"datum":212.3,"type":"quantitative","title":null,"scale":{"domain":[-0.5,210.3],"nice":false,"zero":false}},"x2":{"datum":226.6},"y":{"datum":65.78,"type":"quantitative","title":null,"scale":{"domain":[3.95,95.08],"nice":false,"zero":false}},"y2":{"datum":58.98}}},
{"mark":{"type":"text","color":"#3d6b3d","align":"left","baseline":"middle","fontSize":7.5,"clip":false},"encoding":{"x":{"datum":212.9,"type":"quantitative","title":null,"scale":{"domain":[-0.5,210.3],"nice":false,"zero":false}},"y":{"datum":62.38,"type":"quantitative","title":null,"scale":{"domain":[3.95,95.08],"nice":false,"zero":false}},"text":{"value":"63.55935"}}}
]}
]}
]
}
